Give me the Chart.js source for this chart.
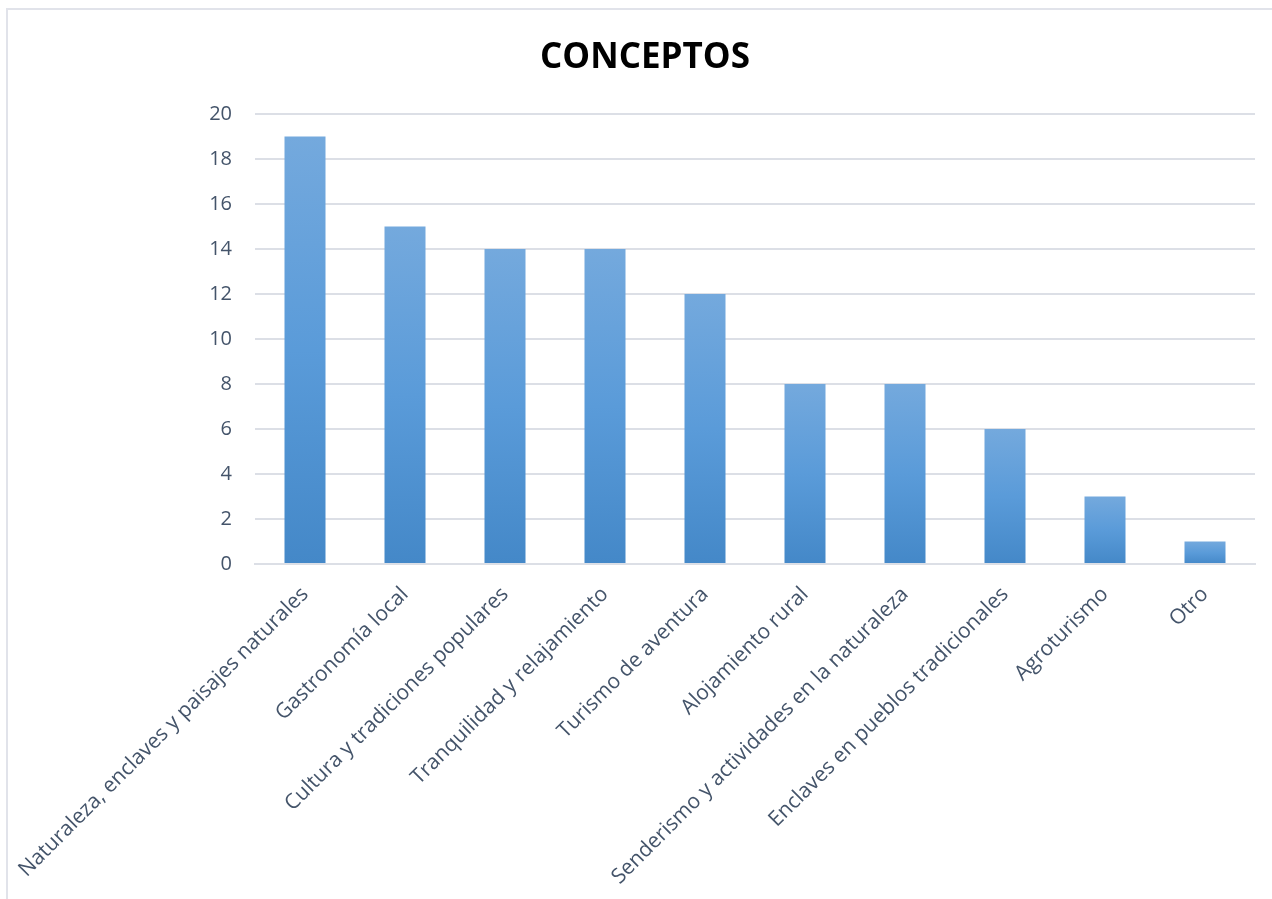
<!DOCTYPE html>
<html>
<head>
<meta charset="utf-8">
<script src="https://cdn.jsdelivr.net/npm/chart.js@4.4.0/dist/chart.umd.min.js"></script>
<style>
  html, body { margin: 0; padding: 0; background: #fff; overflow: hidden; }
  #frame {
    position: absolute; left: 6px; top: 8px;
    width: 1290px; height: 920px;
    border: 2px solid #e1e3ea;
  }
  #chart { position: absolute; left: 0; top: 0; }
</style>
</head>
<body>
<div id="frame">
  <canvas id="chart" width="1274" height="891"></canvas>
</div>
<script>
// categories and values
var categorias = [
    'Naturaleza, enclaves y paisajes naturales',
    'Gastronomía local',
    'Cultura y tradiciones populares',
    'Tranquilidad y relajamiento',
    'Turismo de aventura',
    'Alojamiento rural',
    'Senderismo y actividades en la naturaleza',
    'Enclaves en pueblos tradicionales',
    'Agroturismo',
    'Otro'
]
var valores = [19, 15, 14, 14, 12, 8, 8, 6, 3, 1]
var ticksY = [0, 2, 4, 6, 8, 10, 12, 14, 16, 18, 20]

var textColor = '#44546a'
var gridColor = '#dcdfe6'

// each bar gets its own vertical gradient, lighter on top
function barGradient(context) {
    var chart = context.chart
    if (!chart.chartArea) return '#5b9bd5'
    var y = chart.scales.y
    var top = y.getPixelForValue(context.raw)
    var bottom = y.getPixelForValue(0)
    var g = chart.ctx.createLinearGradient(0, top, 0, bottom)
    g.addColorStop(0, '#74a9dd')
    g.addColorStop(0.5, '#5a9bd9')
    g.addColorStop(1, '#4488c8')
    return g
}

var ctx = document.getElementById('chart').getContext('2d');
var chart = new Chart(ctx, {
    type: 'bar',
    data: {
        labels: categorias,
        datasets: [{
            data: valores,
            backgroundColor: barGradient,
            categoryPercentage: 1,
            barPercentage: 0.41
        }]
    },
    options: {
        responsive: false,
        animation: false,
        layout: { padding: { left: 27, right: 27, top: 0, bottom: 0 } },
        plugins: {
            legend: { display: false },
            tooltip: { enabled: false },
            title: {
                display: true,
                text: 'CONCEPTOS',
                color: '#000',
                font: { family: 'Open Sans', size: 35, weight: 'bold' },
                padding: { top: 27, bottom: 35 }
            }
        },
        scales: {
            y: {
                min: 0,
                max: 20,
                afterFit: function(scale) { scale.width = 220 },
                afterBuildTicks: function(scale) {
                    scale.ticks = ticksY.map(function(v) { return { value: v } })
                },
                border: { display: false },
                grid: { color: gridColor, lineWidth: 2, drawTicks: false },
                ticks: {
                    color: textColor,
                    padding: 23,
                    font: { family: 'Open Sans', size: 20 }
                }
            },
            x: {
                afterFit: function(scale) {
                    scale.height = 337
                    // long rotated labels may run off the left edge, as in the original
                    scale.paddingLeft = 0
                    scale.paddingRight = 0
                },
                border: { display: true, color: gridColor, width: 2 },
                grid: { display: false, drawTicks: false },
                ticks: {
                    color: textColor,
                    maxRotation: 45,
                    minRotation: 45,
                    autoSkip: false,
                    padding: 18,
                    font: { family: 'Open Sans', size: 21 }
                }
            }
        }
    }
});
</script>
</body>
</html>
